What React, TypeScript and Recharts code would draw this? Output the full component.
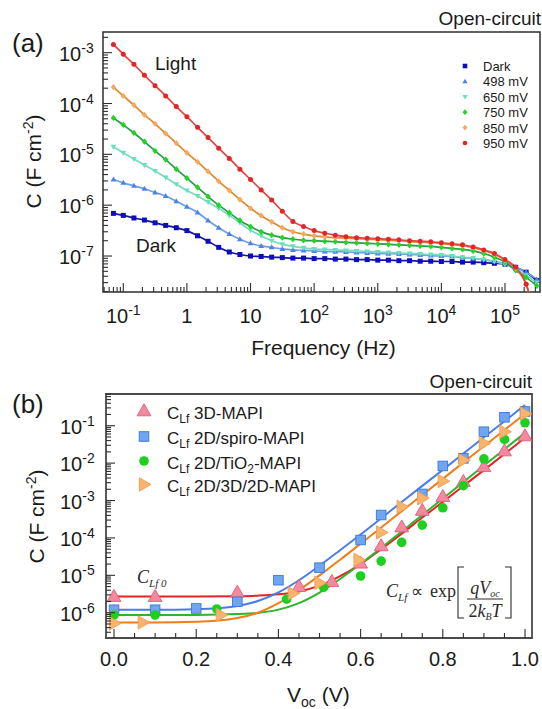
import React from "react";
import { ComposedChart, Line, Scatter, XAxis, YAxis, ReferenceArea } from "recharts";

const INK = "#1a1a1a";
const FRAME = "#2e2e2e";
const SANS = "'Liberation Sans', Arial, Helvetica, sans-serif";
const SERIF = "'Liberation Serif', 'Times New Roman', serif";

// ---- panel (a): capacitance spectra under open-circuit ----
const freqHz = [
  0.07, 0.1, 0.147, 0.215, 0.316, 0.464, 0.681, 1, 1.47, 2.15, 3.16, 4.64, 6.81,
  10, 14.7, 21.5, 31.6, 46.4, 68.1, 100, 147, 215, 316, 464, 681, 1000, 1470,
  2150, 3160, 4640, 6810, 10000, 14700, 21500, 31600, 46400, 68100, 100000,
  147000, 215000, 316000,
];

const capDark = [
  6.9e-7, 6.3e-7, 5.6e-7, 5.1e-7, 4.5e-7, 4.0e-7, 3.6e-7, 3.16e-7, 2.5e-7, 1.95e-7,
  1.48e-7, 1.2e-7, 1.07e-7, 1.0e-7, 9.8e-8, 9.5e-8, 9.3e-8, 9.1e-8, 9.1e-8, 8.9e-8,
  8.9e-8, 8.7e-8, 8.7e-8, 8.5e-8, 8.5e-8, 8.3e-8, 8.3e-8, 8.1e-8, 8.1e-8, 7.9e-8,
  7.9e-8, 7.8e-8, 7.8e-8, 7.6e-8, 7.6e-8, 7.4e-8, 7.2e-8, 6.9e-8, 6.0e-8, 4.8e-8, 3.3e-8,
];
const cap498 = [
  3.2e-6, 2.75e-6, 2.4e-6, 2.1e-6, 1.78e-6, 1.51e-6, 1.2e-6, 9.3e-7, 7.2e-7, 5.0e-7,
  3.6e-7, 2.7e-7, 2.14e-7, 1.78e-7, 1.58e-7, 1.48e-7, 1.38e-7, 1.32e-7, 1.29e-7, 1.26e-7,
  1.23e-7, 1.22e-7, 1.2e-7, 1.17e-7, 1.15e-7, 1.12e-7, 1.11e-7, 1.1e-7, 1.07e-7, 1.05e-7,
  1.02e-7, 1.0e-7, 9.8e-8, 9.3e-8, 8.9e-8, 8.5e-8, 7.9e-8, 7.1e-8, 6.0e-8, 4.8e-8, 3.5e-8,
];
const cap650 = [
  1.41e-5, 1.07e-5, 8.1e-6, 6.2e-6, 4.7e-6, 3.5e-6, 2.57e-6, 1.95e-6, 1.51e-6, 1.15e-6,
  8.7e-7, 6.3e-7, 4.5e-7, 3.2e-7, 2.5e-7, 2.0e-7, 1.7e-7, 1.55e-7, 1.45e-7, 1.38e-7,
  1.35e-7, 1.32e-7, 1.29e-7, 1.26e-7, 1.23e-7, 1.2e-7, 1.17e-7, 1.15e-7, 1.12e-7, 1.1e-7,
  1.07e-7, 1.05e-7, 1.0e-7, 9.5e-8, 9.1e-8, 8.5e-8, 7.8e-8, 6.8e-8, 5.5e-8, 4.2e-8, 3.0e-8,
];
const cap750 = [
  5.2e-5, 3.8e-5, 2.63e-5, 1.78e-5, 1.17e-5, 7.9e-6, 5.1e-6, 3.4e-6, 2.24e-6, 1.48e-6,
  1.0e-6, 7.1e-7, 5.0e-7, 3.8e-7, 3.0e-7, 2.57e-7, 2.3e-7, 2.14e-7, 2.04e-7, 2.0e-7,
  1.95e-7, 1.91e-7, 1.86e-7, 1.82e-7, 1.78e-7, 1.74e-7, 1.7e-7, 1.66e-7, 1.62e-7, 1.58e-7,
  1.55e-7, 1.48e-7, 1.41e-7, 1.35e-7, 1.26e-7, 1.12e-7, 9.5e-8, 7.6e-8, 5.2e-8, 3.8e-8, 2.6e-8,
];
const cap850 = [
  2.09e-4, 1.41e-4, 9.3e-5, 6.0e-5, 3.98e-5, 2.57e-5, 1.66e-5, 1.07e-5, 7.1e-6, 4.6e-6,
  2.95e-6, 1.95e-6, 1.29e-6, 8.7e-7, 6.2e-7, 4.7e-7, 3.6e-7, 3.0e-7, 2.7e-7, 2.5e-7,
  2.38e-7, 2.3e-7, 2.25e-7, 2.2e-7, 2.15e-7, 2.1e-7, 2.05e-7, 2.0e-7, 1.92e-7, 1.88e-7,
  1.83e-7, 1.76e-7, 1.68e-7, 1.6e-7, 1.46e-7, 1.27e-7, 1.08e-7, 8.2e-8, 5.7e-8, 2.8e-8, 5.0e-9,
];
const cap950 = [
  1.45e-3, 9.3e-4, 5.9e-4, 3.6e-4, 2.24e-4, 1.41e-4, 8.7e-5, 5.5e-5, 3.4e-5, 2.14e-5,
  1.32e-5, 8.3e-6, 5.1e-6, 3.2e-6, 2.0e-6, 1.26e-6, 7.6e-7, 4.8e-7, 3.8e-7, 3.16e-7,
  2.8e-7, 2.57e-7, 2.4e-7, 2.3e-7, 2.24e-7, 2.19e-7, 2.14e-7, 2.09e-7, 2.0e-7, 1.95e-7,
  1.91e-7, 1.82e-7, 1.74e-7, 1.66e-7, 1.51e-7, 1.32e-7, 1.12e-7, 8.5e-8, 6.0e-8, 2.8e-8, 4.0e-9,
];

const freqMajorTicks = [0.1, 1, 10, 100, 1000, 10000, 100000];
const capMajorTicksA = [1e-7, 1e-6, 1e-5, 1e-4, 1e-3];

// ---- panel (b): low-frequency capacitance vs open-circuit voltage ----
const v3D = [0, 0.1, 0.3, 0.45, 0.53, 0.6, 0.65, 0.7, 0.75, 0.8, 0.85, 0.9, 0.95, 1.0];
const c3D = [2.7e-6, 2.7e-6, 3.5e-6, 5.0e-6, 6.8e-6, 2.1e-5, 6.1e-5, 1.95e-4, 5.4e-4, 1.27e-3, 3.2e-3, 8.0e-3, 2.1e-2, 5.3e-2];

const vSpiro = [0, 0.1, 0.2, 0.3, 0.4, 0.5, 0.6, 0.65, 0.75, 0.8, 0.85, 0.9, 0.95, 1.0];
const cSpiro = [1.2e-6, 1.2e-6, 1.3e-6, 1.96e-6, 7.4e-6, 1.6e-5, 8.8e-5, 4.1e-4, 1.5e-3, 8.4e-3, 1.34e-2, 6.9e-2, 0.168, 0.24];

const vTiO2 = [0, 0.1, 0.25, 0.42, 0.51, 0.6, 0.65, 0.7, 0.75, 0.8, 0.85, 0.9, 0.95, 1.0];
const cTiO2 = [8.7e-7, 8.7e-7, 1.26e-6, 2.3e-6, 4.8e-6, 9.6e-6, 2.4e-5, 7.6e-5, 2.2e-4, 6.4e-4, 2.5e-3, 1.3e-2, 4.3e-2, 0.12];

const v2D3D = [0, 0.07, 0.26, 0.435, 0.5, 0.595, 0.65, 0.7, 0.75, 0.8, 0.85, 0.9, 0.95, 1.0];
const c2D3D = [5.2e-7, 5.5e-7, 8.7e-7, 3.3e-6, 6.3e-6, 2.6e-5, 1.4e-4, 6.8e-4, 1.15e-3, 3.3e-3, 1.2e-2, 3.4e-2, 6.9e-2, 0.21];

// fitted curves C_Lf0 + A exp(qV/2kT)
const vFit = [0, 0.1, 0.2, 0.3, 0.35, 0.4, 0.45, 0.5, 0.55, 0.6, 0.65, 0.7, 0.75, 0.8, 0.85, 0.9, 0.95, 1.0];
const fit3D = [2.7e-6, 2.7e-6, 2.7e-6, 2.76e-6, 2.86e-6, 3.1e-6, 3.7e-6, 5.3e-6, 9.5e-6, 2.0e-5, 5.0e-5, 1.3e-4, 3.5e-4, 9.2e-4, 2.45e-3, 6.5e-3, 1.75e-2, 4.8e-2];
const fitSpiro = [1.2e-6, 1.2e-6, 1.24e-6, 1.52e-6, 2.05e-6, 3.5e-6, 7.4e-6, 1.81e-5, 4.7e-5, 1.24e-4, 3.35e-4, 9.1e-4, 2.46e-3, 6.6e-3, 1.8e-2, 4.9e-2, 0.132, 0.36];
const fitTiO2 = [8.7e-7, 8.7e-7, 8.76e-7, 9.2e-7, 9.9e-7, 1.21e-6, 1.81e-6, 3.46e-6, 8.0e-6, 2.05e-5, 5.4e-5, 1.49e-4, 4.1e-4, 1.13e-3, 3.1e-3, 8.6e-3, 2.36e-2, 6.5e-2];
const fit2D3D = [5.5e-7, 5.5e-7, 5.7e-7, 7.2e-7, 1.0e-6, 1.8e-6, 4.0e-6, 1.0e-5, 2.6e-5, 7.0e-5, 1.9e-4, 5.2e-4, 1.41e-3, 3.8e-3, 1.04e-2, 2.84e-2, 7.7e-2, 0.21];

const voltMajorTicks = [0, 0.2, 0.4, 0.6, 0.8, 1.0];
const capMajorTicksB = [1e-6, 1e-5, 1e-4, 1e-3, 1e-2, 1e-1];

// axis ranges
const FREQ_DOMAIN: [number, number] = [0.048, 3.55e5];
const CAP_DOMAIN_A: [number, number] = [1.96e-8, 2.55e-3];
const VOLT_DOMAIN: [number, number] = [-0.0195, 1.017];
const CAP_DOMAIN_B: [number, number] = [2.11e-7, 0.705];

type Shape = "square" | "triUp" | "triDown" | "diamond" | "circle" | "triRight";

function Marker({ shape, cx, cy, r, fill, stroke = "none" }: {
  shape: Shape; cx: number; cy: number; r: number; fill: string; stroke?: string;
}) {
  if (cx == null || cy == null || isNaN(cx) || isNaN(cy)) return null;
  const sw = stroke === "none" ? 0 : 0.9;
  switch (shape) {
    case "square":
      return <rect x={cx - r} y={cy - r} width={2 * r} height={2 * r} fill={fill} stroke={stroke} strokeWidth={sw} />;
    case "circle":
      return <circle cx={cx} cy={cy} r={r} fill={fill} stroke={stroke} strokeWidth={sw} />;
    case "triUp":
      return <path d={`M${cx},${cy - r * 1.2}L${cx + r * 1.15},${cy + r * 0.8}L${cx - r * 1.15},${cy + r * 0.8}Z`} fill={fill} stroke={stroke} strokeWidth={sw} />;
    case "triDown":
      return <path d={`M${cx},${cy + r * 1.2}L${cx + r * 1.15},${cy - r * 0.8}L${cx - r * 1.15},${cy - r * 0.8}Z`} fill={fill} stroke={stroke} strokeWidth={sw} />;
    case "triRight":
      return <path d={`M${cx + r * 1.2},${cy}L${cx - r * 0.8},${cy - r * 1.15}L${cx - r * 0.8},${cy + r * 1.15}Z`} fill={fill} stroke={stroke} strokeWidth={sw} />;
    default:
      return <path d={`M${cx},${cy - r * 1.25}L${cx + r * 1.1},${cy}L${cx},${cy + r * 1.25}L${cx - r * 1.1},${cy}Z`} fill={fill} stroke={stroke} strokeWidth={sw} />;
  }
}

const spectra = [
  { key: "dark", label: "Dark", values: capDark, shape: "square" as Shape, dot: "#0c0cc0", line: "#1515a0" },
  { key: "v498", label: "498 mV", values: cap498, shape: "triUp" as Shape, dot: "#4f80ea", line: "#6a9fe6" },
  { key: "v650", label: "650 mV", values: cap650, shape: "triDown" as Shape, dot: "#66e2b4", line: "#7ad9bd" },
  { key: "v750", label: "750 mV", values: cap750, shape: "diamond" as Shape, dot: "#1fd51f", line: "#2a9a4c" },
  { key: "v850", label: "850 mV", values: cap850, shape: "diamond" as Shape, dot: "#f6a862", line: "#d98b2e" },
  { key: "v950", label: "950 mV", values: cap950, shape: "circle" as Shape, dot: "#e02626", line: "#e24444" },
];

const devices = [
  { key: "3d", label: "3D-MAPI", v: v3D, c: c3D, fit: fit3D, shape: "triUp" as Shape, r: 6, fill: "#f2899e", edge: "#df5d78", line: "#e32424" },
  { key: "spiro", label: "2D/spiro-MAPI", v: vSpiro, c: cSpiro, fit: fitSpiro, shape: "square" as Shape, r: 4.8, fill: "#6ea6f0", edge: "#3a78d6", line: "#4a7ce8" },
  { key: "tio2", label: "2D/TiO2-MAPI", v: vTiO2, c: cTiO2, fit: fitTiO2, shape: "circle" as Shape, r: 4.8, fill: "#1fcf1f", edge: "none", line: "#2db52d" },
  { key: "2d3d", label: "2D/3D/2D-MAPI", v: v2D3D, c: c2D3D, fit: fit2D3D, shape: "triRight" as Shape, r: 5.8, fill: "#f8b36e", edge: "#ef9f4e", line: "#f07d1a" },
];

function logTicks(lo: number, hi: number) {
  const out: number[] = [];
  for (let e = Math.floor(Math.log10(lo)); e <= Math.ceil(Math.log10(hi)); e++) {
    for (let m = 1; m <= 9; m++) {
      const v = m * Math.pow(10, e);
      if (v >= lo && v <= hi) out.push(v);
    }
  }
  return out;
}

const isDecade = (v: number) => {
  const l = Math.log10(v);
  return Math.abs(l - Math.round(l)) < 1e-9;
};

// ticks point into the plot; labels only on decades
function LogYTick(props: any) {
  const { x, y, payload, labelX } = props;
  const v = payload.value as number;
  const major = isDecade(v);
  return (
    <g>
      <line x1={x} x2={x + (major ? 9 : 5)} y1={y} y2={y} stroke={FRAME} strokeWidth={1.1} />
      {major && (
        <text x={labelX} y={y + 8} fontSize={20} fill={INK} fontFamily={SANS}>
          10<tspan dy={-8} fontSize={14}>{Math.round(Math.log10(v))}</tspan>
        </text>
      )}
    </g>
  );
}

function FreqTick(props: any) {
  const { x, y, payload } = props;
  const v = payload.value as number;
  const major = isDecade(v);
  const e = Math.round(Math.log10(v));
  return (
    <g>
      <line x1={x} x2={x} y1={y} y2={y - (major ? 9 : 5)} stroke={FRAME} strokeWidth={1.1} />
      {major && (
        <text x={x} y={y + 31} fontSize={20} fill={INK} textAnchor="middle" fontFamily={SANS}>
          {e === 0 ? "1" : e === 1 ? "10" : <>10<tspan dy={-8} fontSize={14}>{e}</tspan></>}
        </text>
      )}
    </g>
  );
}

function VoltTick(props: any) {
  const { x, y, payload } = props;
  const v = payload.value as number;
  const major = voltMajorTicks.some((t) => Math.abs(t - v) < 1e-9);
  return (
    <g>
      <line x1={x} x2={x} y1={y} y2={y - (major ? 9 : 5)} stroke={FRAME} strokeWidth={1.1} />
      {major && (
        <text x={x} y={y + 28} fontSize={20} fill={INK} textAnchor="middle" fontFamily={SANS}>
          {v.toFixed(1)}
        </text>
      )}
    </g>
  );
}

const freqTicks = logTicks(FREQ_DOMAIN[0], FREQ_DOMAIN[1]);
const capTicksA = logTicks(CAP_DOMAIN_A[0], CAP_DOMAIN_A[1]);
const capTicksB = logTicks(CAP_DOMAIN_B[0], CAP_DOMAIN_B[1]);
const voltTicks = Array.from({ length: 21 }, (_, i) => Number((i * 0.05).toFixed(2)));

function SpectraChart() {
  return (
    <ComposedChart width={542} height={330} margin={{ top: 32, right: 2, bottom: 8, left: 0 }}>
      <XAxis
        dataKey="f"
        type="number"
        scale="log"
        domain={FREQ_DOMAIN}
        allowDataOverflow
        ticks={freqTicks}
        interval={0}
        tickSize={0}
        tickMargin={0}
        axisLine={false}
        tickLine={false}
        height={30}
        tick={(p: any) => <FreqTick {...p} />}
      />
      <YAxis
        type="number"
        scale="log"
        domain={CAP_DOMAIN_A}
        allowDataOverflow
        ticks={capTicksA}
        interval={0}
        tickSize={0}
        tickMargin={0}
        axisLine={false}
        tickLine={false}
        width={103}
        tick={(p: any) => <LogYTick {...p} labelX={59} />}
      />
      {spectra.map((s) => (
        <Line
          key={s.key}
          data={freqHz.map((f, i) => ({ f, c: s.values[i] }))}
          dataKey="c"
          type="monotone"
          stroke={s.line}
          strokeWidth={1.7}
          isAnimationActive={false}
          activeDot={false}
          dot={(p: any) => (
            <Marker key={`${s.key}-${p.index}`} shape={s.shape} cx={p.cx} cy={p.cy} r={2.5} fill={s.dot} />
          )}
        />
      ))}
      <ReferenceArea
        x1={FREQ_DOMAIN[0]}
        x2={FREQ_DOMAIN[1]}
        y1={CAP_DOMAIN_A[0]}
        y2={CAP_DOMAIN_A[1]}
        fill="none"
        stroke={FRAME}
        strokeWidth={1.5}
        ifOverflow="visible"
      />
    </ComposedChart>
  );
}

function VoltageChart() {
  return (
    <ComposedChart width={542} height={310} margin={{ top: 34, right: 10, bottom: 2, left: 0 }}>
      <XAxis
        dataKey="v"
        type="number"
        domain={VOLT_DOMAIN}
        allowDataOverflow
        ticks={voltTicks}
        interval={0}
        tickSize={0}
        tickMargin={0}
        axisLine={false}
        tickLine={false}
        height={30}
        tick={(p: any) => <VoltTick {...p} />}
      />
      <YAxis
        type="number"
        scale="log"
        domain={CAP_DOMAIN_B}
        allowDataOverflow
        ticks={capTicksB}
        interval={0}
        tickSize={0}
        tickMargin={0}
        axisLine={false}
        tickLine={false}
        width={106}
        tick={(p: any) => <LogYTick {...p} labelX={60} />}
      />
      {devices.map((d) => (
        <Line
          key={`fit-${d.key}`}
          data={vFit.map((v, i) => ({ v, c: d.fit[i] }))}
          dataKey="c"
          type="monotone"
          stroke={d.line}
          strokeWidth={2}
          dot={false}
          activeDot={false}
          isAnimationActive={false}
        />
      ))}
      {devices.map((d) => (
        <Scatter
          key={`pts-${d.key}`}
          data={d.v.map((v, i) => ({ v, c: d.c[i] }))}
          dataKey="c"
          isAnimationActive={false}
          shape={(p: any) => <Marker shape={d.shape} cx={p.cx} cy={p.cy} r={d.r} fill={d.fill} stroke={d.edge} />}
        />
      ))}
      <ReferenceArea
        x1={VOLT_DOMAIN[0]}
        x2={VOLT_DOMAIN[1]}
        y1={CAP_DOMAIN_B[0]}
        y2={CAP_DOMAIN_B[1]}
        fill="none"
        stroke="#4a4a4a"
        strokeWidth={1.8}
        ifOverflow="visible"
      />
    </ComposedChart>
  );
}

function Labels() {
  const legendA = 66;
  const legendB = [411, 436.5, 461, 484.5];
  return (
    <svg
      width={542}
      height={709}
      style={{ position: "absolute", left: 0, top: 0, pointerEvents: "none" }}
      fontFamily={SANS}
      fill={INK}
    >
      {/* panel (a) */}
      <text x={12} y={51.5} fontSize={26}>(a)</text>
      <text x={541} y={25} fontSize={19} textAnchor="end">Open-circuit</text>
      <text x={155} y={70} fontSize={19}>Light</text>
      <text x={136} y={251.5} fontSize={19}>Dark</text>
      <text x={323.5} y={355} fontSize={21} textAnchor="middle">Frequency (Hz)</text>
      <text transform="translate(41,161.5) rotate(-90)" fontSize={21} textAnchor="middle">
        C (F cm<tspan dy={-8} fontSize={14}>-2</tspan><tspan dy={8}>)</tspan>
      </text>
      {spectra.map((s, i) => (
        <g key={s.key}>
          <Marker shape={s.shape} cx={465} cy={legendA + i * 15.4} r={2.3} fill={s.dot} />
          <text x={483} y={legendA + 5 + i * 15.4} fontSize={13}>{s.label}</text>
        </g>
      ))}

      {/* panel (b) */}
      <text x={12} y={413} fontSize={26}>(b)</text>
      <text x={532} y={388} fontSize={19} textAnchor="end">Open-circuit</text>
      <text transform="translate(43.5,516.5) rotate(-90)" fontSize={21} textAnchor="middle">
        C (F cm<tspan dy={-8} fontSize={14}>-2</tspan><tspan dy={8}>)</tspan>
      </text>
      <text x={287} y={702} fontSize={21}>
        V<tspan dy={5} fontSize={14}>oc</tspan><tspan dy={-5}> (V)</tspan>
      </text>
      {devices.map((d, i) => (
        <g key={d.key}>
          <Marker shape={d.shape} cx={144} cy={legendB[i]} r={d.r} fill={d.fill} stroke={d.edge} />
          <text x={167} y={legendB[i] + 7.5} fontSize={17}>
            C<tspan dy={4} fontSize={12}>Lf</tspan>
            <tspan dy={-4}> </tspan>
            {d.key === "tio2" ? (
              <>2D/TiO<tspan dy={4} fontSize={12}>2</tspan><tspan dy={-4}>-MAPI</tspan></>
            ) : (
              d.label
            )}
          </text>
        </g>
      ))}

      {/* fit annotations */}
      <g fontFamily={SERIF} fill="#2a2a2a">
        <text x={137} y={583} fontSize={18} fontStyle="italic">
          C<tspan dy={4} fontSize={11}>Lf 0</tspan>
        </text>
        <text x={386} y={597} fontSize={18} fontStyle="italic">
          C<tspan dy={4} fontSize={11}>Lf</tspan>
        </text>
        <text x={411} y={597} fontSize={17}>∝</text>
        <text x={430} y={597} fontSize={18}>exp</text>
        <path d="M464,567H458V618H464" fill="none" stroke="#2a2a2a" strokeWidth={1.1} />
        <path d="M505,567H511V618H505" fill="none" stroke="#2a2a2a" strokeWidth={1.1} />
        <text x={485} y={594} fontSize={18} textAnchor="middle" fontStyle="italic">
          qV<tspan dy={3} fontSize={10}>oc</tspan>
        </text>
        <line x1={467} x2={503} y1={599} y2={599} stroke="#2a2a2a" strokeWidth={1} />
        <text x={485} y={616.5} fontSize={18} textAnchor="middle">
          2<tspan fontStyle="italic">k</tspan><tspan dy={3} fontSize={10} fontStyle="italic">B</tspan>
          <tspan dy={-3} fontStyle="italic">T</tspan>
        </text>
      </g>
    </svg>
  );
}

export default function App() {
  return (
    <div
      style={{
        position: "absolute",
        left: 0,
        top: 0,
        width: 542,
        height: 709,
        background: "#fff",
        fontFamily: SANS,
        overflow: "hidden",
      }}
    >
      <div style={{ position: "absolute", left: 0, top: 0 }}>
        <SpectraChart />
      </div>
      <div style={{ position: "absolute", left: 0, top: 360 }}>
        <VoltageChart />
      </div>
      <Labels />
    </div>
  );
}
